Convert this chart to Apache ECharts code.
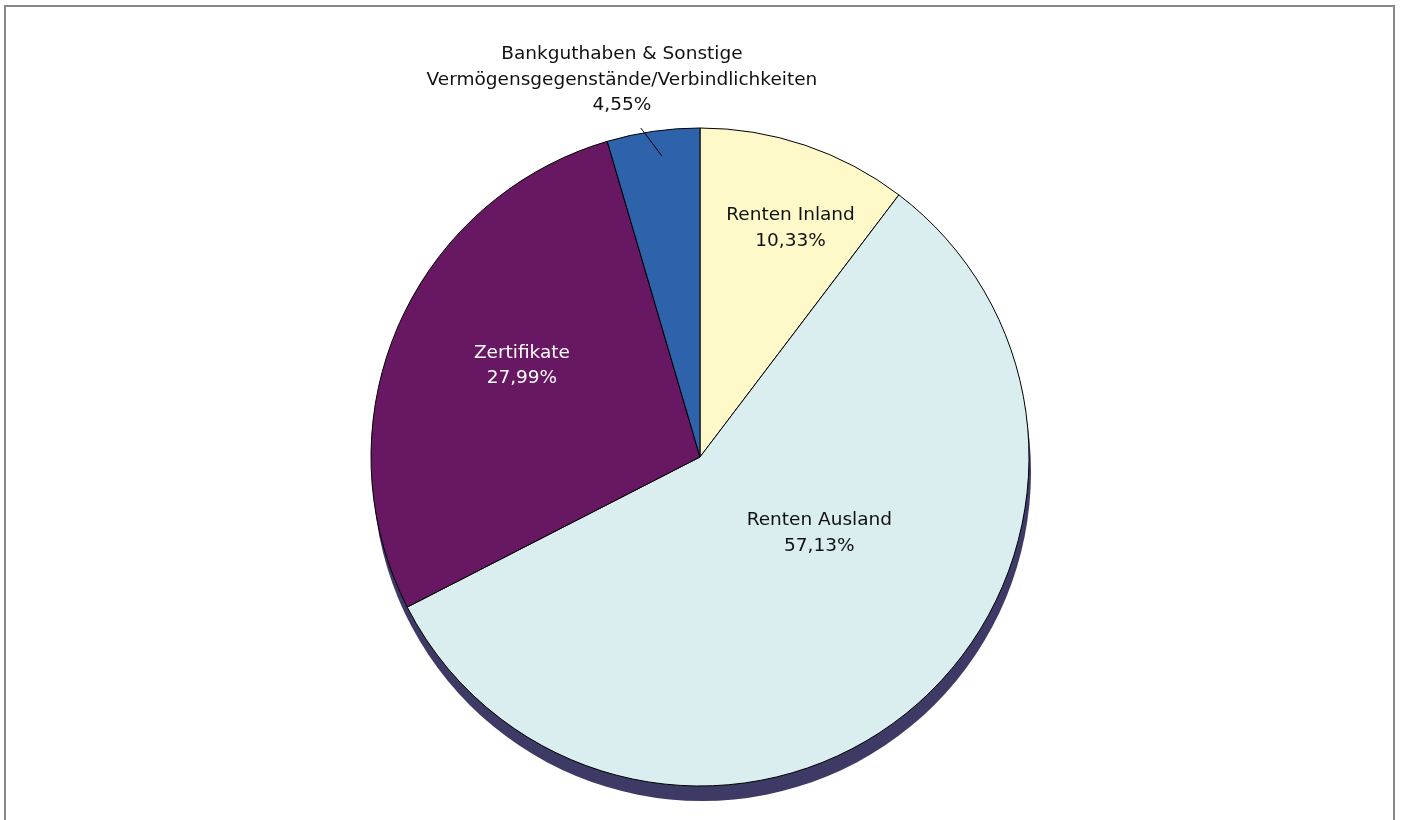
<!DOCTYPE html>
<html>
<head>
<meta charset="utf-8">
<script src="https://cdn.jsdelivr.net/npm/echarts@6/dist/echarts.min.js"></script>
<style>
html,body{margin:0;padding:0;background:#fff;}
#chart{width:1402px;height:820px;}
</style>
</head>
<body>
<div id="chart"></div>
<script>
// ---- data ----
const categories = [
  'Renten Inland',
  'Renten Ausland',
  'Zertifikate',
  'Bankguthaben & Sonstige\nVermögensgegenstände/Verbindlichkeiten'
];
const shares = [10.33, 57.13, 27.99, 4.55];

// ---- style ----
const sliceColors = ['#FFF8C8', '#DAEEF0', '#681862', '#2E62AA'];
const labelColors = ['#111111', '#111111', '#ffffff', '#111111'];
const CX = 700, CY = 457, R = 329;
// label anchor in polar form: fraction of radius, angle (deg clockwise from 12 o'clock)
const labelPolar = [
  {r: 0.748, a: 21.6},
  {r: 0.430, a: 122.5},
  {r: 0.608, a: 297.1},
  {r: 1.170, a: 348.3}
];
const leaderFrom = {r: 0.922, a: 352.8};
const leaderTo = {r: 1.016, a: 349.8};

function polar(p) {
  const t = p.a * Math.PI / 180;
  return [CX + R * p.r * Math.sin(t), CY - R * p.r * Math.cos(t)];
}

const chart = echarts.init(document.getElementById('chart'), null, {renderer: 'canvas'});

const data = categories.map((name, i) => ({
  name: name,
  value: shares[i],
  itemStyle: {color: sliceColors[i]},
  label: {color: labelColors[i]}
}));

const lf = polar(leaderFrom), lt = polar(leaderTo);

chart.setOption({
  backgroundColor: '#ffffff',
  animation: false,
  graphic: [
    {
      type: 'rect',
      shape: {x: 5, y: 6, width: 1389, height: 840},
      style: {fill: 'none', stroke: '#888888', lineWidth: 2},
      silent: true,
      z: 100
    },
    {
      type: 'line',
      shape: {x1: lf[0], y1: lf[1], x2: lt[0], y2: lt[1]},
      style: {stroke: '#000000', lineWidth: 1},
      silent: true,
      z: 100
    }
  ],
  series: [
    {
      type: 'pie',
      silent: true,
      center: [CX + 2, CY + 15],
      radius: R,
      startAngle: 90,
      label: {show: false},
      labelLine: {show: false},
      itemStyle: {color: '#3E3A66', borderWidth: 0},
      data: [{value: 1, name: 'shadow'}],
      z: 1
    },
    {
      type: 'pie',
      center: [CX, CY],
      radius: R,
      startAngle: 90,
      clockwise: true,
      avoidLabelOverlap: false,
      itemStyle: {borderColor: '#000', borderWidth: 1},
      labelLine: {show: false},
      label: {
        show: true,
        position: 'outside',
        fontFamily: 'DejaVu Sans',
        fontSize: 18.5,
        lineHeight: 25.5,
        align: 'center',
        formatter: function (p) {
          return p.name + '\n' + p.value.toFixed(2).replace('.', ',') + '%';
        }
      },
      labelLayout: function (params) {
        const pos = polar(labelPolar[params.dataIndex]);
        return {x: pos[0], y: pos[1], align: 'center', verticalAlign: 'middle'};
      },
      emphasis: {disabled: true},
      data: data,
      z: 2
    }
  ]
});
</script>
</body>
</html>
